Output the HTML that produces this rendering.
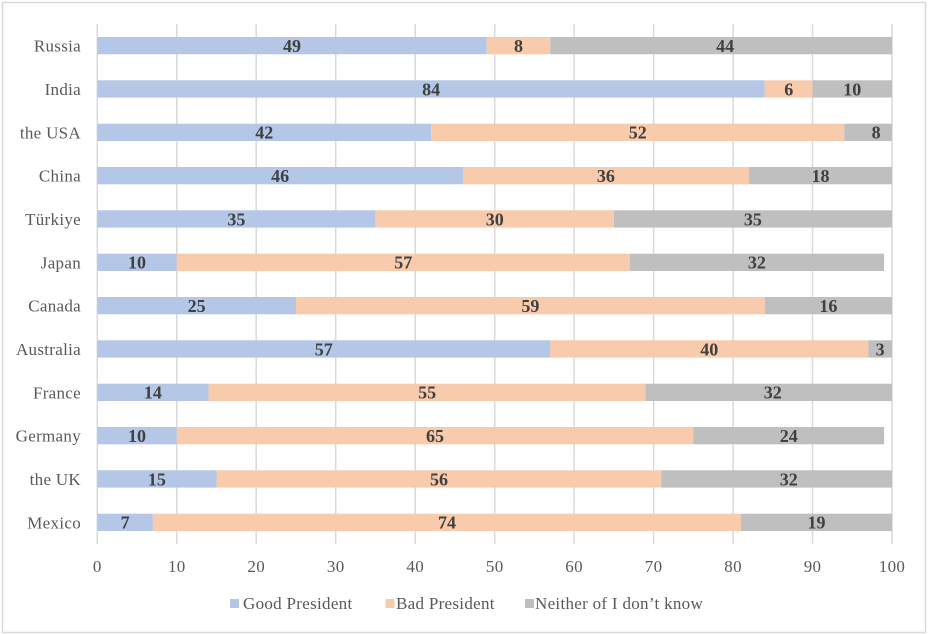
<!DOCTYPE html>
<html><head><meta charset="utf-8"><style>
html,body{margin:0;padding:0;background:#fff;}
svg{display:block;}
text{font-family:"Liberation Serif","Times New Roman",serif;}
.c{font-size:17px;fill:#595959;letter-spacing:0.3px;}
.d{font-size:18px;font-weight:bold;fill:#404040;}
</style></head><body>
<svg width="928" height="634" viewBox="0 0 928 634" xmlns="http://www.w3.org/2000/svg">
<rect x="0" y="0" width="928" height="634" fill="#fff"/>
<rect x="2.5" y="2.5" width="923" height="630" fill="none" stroke="#d9d9d9" stroke-width="1.5"/>
<g stroke="#d9d9d9" stroke-width="1.5">
<line x1="97.3" y1="24" x2="97.3" y2="544"/>
<line x1="176.8" y1="24" x2="176.8" y2="544"/>
<line x1="256.2" y1="24" x2="256.2" y2="544"/>
<line x1="335.7" y1="24" x2="335.7" y2="544"/>
<line x1="415.2" y1="24" x2="415.2" y2="544"/>
<line x1="494.7" y1="24" x2="494.7" y2="544"/>
<line x1="574.1" y1="24" x2="574.1" y2="544"/>
<line x1="653.6" y1="24" x2="653.6" y2="544"/>
<line x1="733.1" y1="24" x2="733.1" y2="544"/>
<line x1="812.5" y1="24" x2="812.5" y2="544"/>
<line x1="892" y1="24" x2="892" y2="544"/>
</g>
<g>
<rect x="97.3" y="37" width="389.4" height="17.3" fill="#b4c7e7"/>
<rect x="486.7" y="37" width="63.6" height="17.3" fill="#f8cbad"/>
<rect x="550.3" y="37" width="341.7" height="17.3" fill="#bfbfbf"/>
<rect x="97.3" y="80.3" width="667.5" height="17.3" fill="#b4c7e7"/>
<rect x="764.8" y="80.3" width="47.7" height="17.3" fill="#f8cbad"/>
<rect x="812.5" y="80.3" width="79.5" height="17.3" fill="#bfbfbf"/>
<rect x="97.3" y="123.7" width="333.8" height="17.3" fill="#b4c7e7"/>
<rect x="431.1" y="123.7" width="413.2" height="17.3" fill="#f8cbad"/>
<rect x="844.3" y="123.7" width="47.7" height="17.3" fill="#bfbfbf"/>
<rect x="97.3" y="167" width="365.6" height="17.3" fill="#b4c7e7"/>
<rect x="462.9" y="167" width="286.1" height="17.3" fill="#f8cbad"/>
<rect x="749" y="167" width="143" height="17.3" fill="#bfbfbf"/>
<rect x="97.3" y="210.3" width="278.1" height="17.3" fill="#b4c7e7"/>
<rect x="375.4" y="210.3" width="238.5" height="17.3" fill="#f8cbad"/>
<rect x="613.9" y="210.3" width="278.1" height="17.3" fill="#bfbfbf"/>
<rect x="97.3" y="253.7" width="79.5" height="17.3" fill="#b4c7e7"/>
<rect x="176.8" y="253.7" width="452.9" height="17.3" fill="#f8cbad"/>
<rect x="629.7" y="253.7" width="254.4" height="17.3" fill="#bfbfbf"/>
<rect x="97.3" y="297" width="198.7" height="17.3" fill="#b4c7e7"/>
<rect x="296" y="297" width="468.8" height="17.3" fill="#f8cbad"/>
<rect x="764.8" y="297" width="127.2" height="17.3" fill="#bfbfbf"/>
<rect x="97.3" y="340.3" width="453" height="17.3" fill="#b4c7e7"/>
<rect x="550.3" y="340.3" width="317.9" height="17.3" fill="#f8cbad"/>
<rect x="868.2" y="340.3" width="23.8" height="17.3" fill="#bfbfbf"/>
<rect x="97.3" y="383.7" width="111.3" height="17.3" fill="#b4c7e7"/>
<rect x="208.6" y="383.7" width="437" height="17.3" fill="#f8cbad"/>
<rect x="645.6" y="383.7" width="246.4" height="17.3" fill="#bfbfbf"/>
<rect x="97.3" y="427" width="79.5" height="17.3" fill="#b4c7e7"/>
<rect x="176.8" y="427" width="516.5" height="17.3" fill="#f8cbad"/>
<rect x="693.3" y="427" width="190.8" height="17.3" fill="#bfbfbf"/>
<rect x="97.3" y="470.3" width="119.2" height="17.3" fill="#b4c7e7"/>
<rect x="216.5" y="470.3" width="445" height="17.3" fill="#f8cbad"/>
<rect x="661.5" y="470.3" width="230.5" height="17.3" fill="#bfbfbf"/>
<rect x="97.3" y="513.7" width="55.6" height="17.3" fill="#b4c7e7"/>
<rect x="152.9" y="513.7" width="588.1" height="17.3" fill="#f8cbad"/>
<rect x="741" y="513.7" width="151" height="17.3" fill="#bfbfbf"/>
</g>
<g text-anchor="middle">
<text class="d" x="292" y="52">49</text><text class="d" x="518.5" y="52">8</text><text class="d" x="725.1" y="52">44</text>
<text class="d" x="431.1" y="95.3">84</text><text class="d" x="788.7" y="95.3">6</text><text class="d" x="852.3" y="95.3">10</text>
<text class="d" x="264.2" y="138.6">42</text><text class="d" x="637.7" y="138.6">52</text><text class="d" x="876.1" y="138.6">8</text>
<text class="d" x="280.1" y="182">46</text><text class="d" x="605.9" y="182">36</text><text class="d" x="820.5" y="182">18</text>
<text class="d" x="236.4" y="225.3">35</text><text class="d" x="494.7" y="225.3">30</text><text class="d" x="752.9" y="225.3">35</text>
<text class="d" x="137" y="268.6">10</text><text class="d" x="403.3" y="268.6">57</text><text class="d" x="756.9" y="268.6">32</text>
<text class="d" x="196.6" y="312">25</text><text class="d" x="530.4" y="312">59</text><text class="d" x="828.4" y="312">16</text>
<text class="d" x="323.8" y="355.3">57</text><text class="d" x="709.2" y="355.3">40</text><text class="d" x="880.1" y="355.3">3</text>
<text class="d" x="152.9" y="398.6">14</text><text class="d" x="427.1" y="398.6">55</text><text class="d" x="772.8" y="398.6">32</text>
<text class="d" x="137" y="442">10</text><text class="d" x="435" y="442">65</text><text class="d" x="788.7" y="442">24</text>
<text class="d" x="156.9" y="485.3">15</text><text class="d" x="439" y="485.3">56</text><text class="d" x="788.7" y="485.3">32</text>
<text class="d" x="125.1" y="528.6">7</text><text class="d" x="447" y="528.6">74</text><text class="d" x="816.5" y="528.6">19</text>
</g>
<g text-anchor="end">
<text class="c" x="81" y="51.7">Russia</text>
<text class="c" x="81" y="95">India</text>
<text class="c" x="81" y="138.3">the USA</text>
<text class="c" x="81" y="181.7">China</text>
<text class="c" x="81" y="225">Türkiye</text>
<text class="c" x="81" y="268.3">Japan</text>
<text class="c" x="81" y="311.7">Canada</text>
<text class="c" x="81" y="355">Australia</text>
<text class="c" x="81" y="398.3">France</text>
<text class="c" x="81" y="441.7">Germany</text>
<text class="c" x="81" y="485">the UK</text>
<text class="c" x="81" y="528.3">Mexico</text>
</g>
<g text-anchor="middle">
<text class="c" x="97.3" y="572">0</text>
<text class="c" x="176.8" y="572">10</text>
<text class="c" x="256.2" y="572">20</text>
<text class="c" x="335.7" y="572">30</text>
<text class="c" x="415.2" y="572">40</text>
<text class="c" x="494.7" y="572">50</text>
<text class="c" x="574.1" y="572">60</text>
<text class="c" x="653.6" y="572">70</text>
<text class="c" x="733.1" y="572">80</text>
<text class="c" x="812.5" y="572">90</text>
<text class="c" x="892" y="572">100</text>
</g>
<rect x="230" y="599" width="9" height="9" fill="#b4c7e7"/>
<text class="c" x="243" y="609">Good President</text>
<rect x="385.5" y="599" width="9" height="9" fill="#f8cbad"/>
<text class="c" x="396" y="609">Bad President</text>
<rect x="525" y="599" width="9" height="9" fill="#bfbfbf"/>
<text class="c" x="535" y="609">Neither of I don’t know</text>
</svg>
</body></html>
